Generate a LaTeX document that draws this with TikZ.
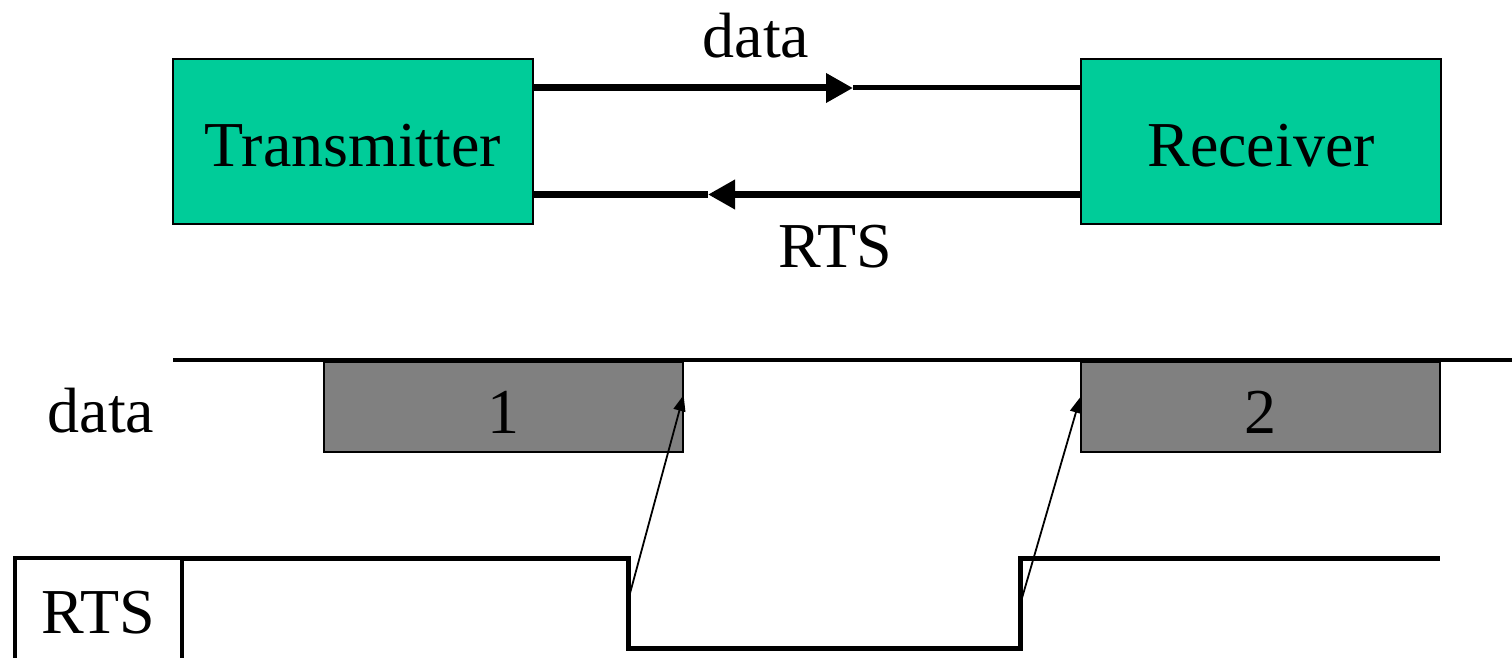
\documentclass[tikz,border=0pt]{standalone}
\usepackage{fontspec}
\setmainfont{Liberation Serif}
\usetikzlibrary{arrows.meta}
\definecolor{boxgreen}{HTML}{00CC99}
\definecolor{boxgray}{HTML}{808080}
\begin{document}
\begin{tikzpicture}[x=1pt,y=-1pt,
  bigtext/.style={font=\fontsize{64}{70}\selectfont},
  unit/.style={rectangle,draw=black,line width=1.5pt,fill=boxgreen,inner sep=0pt,
    minimum width=360pt,minimum height=165pt,bigtext,text height=49pt,text depth=0pt},
  packet/.style={rectangle,draw=black,line width=1.2pt,fill=boxgray,inner sep=0pt,
    minimum width=359pt,minimum height=90pt,bigtext,text height=53pt,text depth=0pt},
  lbl/.style={bigtext,inner sep=0pt,anchor=base},
  thick link/.style={line width=7pt},
  thin link/.style={line width=5pt},
  signal/.style={line width=5pt,line join=miter},
  pointer/.style={line width=1.8pt,-{Triangle[length=16pt,width=12pt]}},
  bigtip/.style={-{Triangle[length=27pt,width=28pt]}}
]
\useasboundingbox (0,0) rectangle (1512,658);
% top blocks
\node[unit] (tx) at (353,141.5) {Transmitter};
\node[unit] (rx) at (1261,141.5) {Receiver};
\coordinate (dm) at (853,88);
\coordinate (rm) at (708,194.5);
\draw[thick link,bigtip] ([yshift=53.5pt]tx.east) -- (dm);
\draw[thin link] (dm) -- ([yshift=53.5pt]rx.west);
\draw[thick link,bigtip] ([yshift=-53pt]rx.west) -- (rm);
\draw[thick link] (rm) -- ([yshift=-53pt]tx.east);
\node[lbl] (dlab) at (756,58) {data};
\node[lbl] (rlab) at (835,267) {RTS};
% timing diagram
\node[packet] (p1) at (503.5,407) {1};
\node[packet] (p2) at (1260.5,407) {2};
\coordinate (dl0) at (173,360);
\coordinate (dl1) at (1520,360);
\draw[line width=4.5pt] (dl0) -- (dl1);
\node[lbl] (dtl) at (101,432) {data};
\node[rectangle,draw=black,line width=4pt,inner sep=0pt,minimum width=167pt,minimum height=120pt,
  bigtext,text height=30pt,text depth=0pt] (rtsbox) at (98.5,618) {RTS};
\coordinate (s0) at (182,558);
\coordinate (s1) at (628,558);
\coordinate (s2) at (628,648);
\coordinate (s3) at (1020,648);
\coordinate (s4) at (1020,558);
\coordinate (s5) at (1440,558);
\draw[signal] (s0) -- (s1) -- (s2) -- (s3) -- (s4) -- (s5);
\coordinate (f1) at (629,597);
\coordinate (f2) at (1022,598);
\draw[pointer] (f1) -- ([yshift=12pt]p1.east);
\draw[pointer] (f2) -- ([yshift=10pt]p2.west);
\end{tikzpicture}
\end{document}
